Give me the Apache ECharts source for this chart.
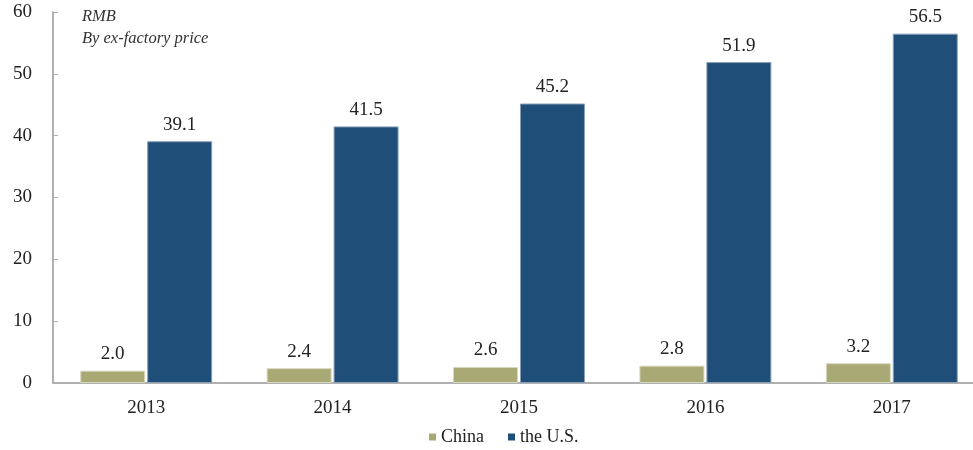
<!DOCTYPE html>
<html><head><meta charset="utf-8">
<script src="https://cdn.jsdelivr.net/npm/echarts@6/dist/echarts.min.js"></script>
<style>html,body{margin:0;padding:0;background:#fff}#c{width:973px;height:450px}</style>
</head><body><div id="c"></div>
<script>
const categories = ['2013','2014','2015','2016','2017'];
const chinaValues = [2.0, 2.4, 2.6, 2.8, 3.2];
const usValues = [39.1, 41.5, 45.2, 51.9, 56.5];
const yTicks = [0, 10, 20, 30, 40, 50, 60];

const chart = echarts.init(document.getElementById('c'));
const font = '"Liberation Serif", "Times New Roman", serif';
chart.setOption({
  animation: false,
  textStyle: {fontFamily: font},
  grid: {left: 53, right: -12, top: 12, bottom: 67, containLabel: false, outerBoundsMode: 'none'},
  legend: {
    top: 428, left: 429, padding: 0, itemWidth: 7, itemHeight: 7, itemGap: 24,
    icon: 'rect',
    itemStyle: {borderWidth: 0},
    textStyle: {fontFamily: font, fontSize: 18, color: '#222'},
    data: ['China', 'the U.S.']
  },
  graphic: [
    {type: 'text', left: 82, top: 8, style: {text: 'RMB', font: 'italic 16.5px "Liberation Serif"', fill: '#333'}},
    {type: 'text', left: 82, top: 30, style: {text: 'By ex-factory price', font: 'italic 16.5px "Liberation Serif"', fill: '#333'}}
  ],
  xAxis: {
    type: 'category', data: categories,
    axisLine: {lineStyle: {color: '#b0b0b0', width: 2}},
    axisTick: {show: false},
    axisLabel: {fontFamily: font, fontSize: 19, color: '#222', margin: 16}
  },
  yAxis: {
    type: 'value', min: yTicks[0], max: yTicks[yTicks.length-1], interval: 10,
    axisLine: {show: true, lineStyle: {color: '#b0b0b0', width: 2}},
    axisTick: {show: true, inside: true, length: 5, lineStyle: {color: '#b0b0b0'}},
    splitLine: {show: false},
    axisLabel: {fontFamily: font, fontSize: 19, color: '#222', margin: 21}
  },
  series: [
    {name: 'China', type: 'bar', data: chinaValues, barWidth: 65, barGap: '3%',
     itemStyle: {color: '#A9A975', borderColor: '#d8d8c0', borderWidth: 1},
     label: {show: true, position: 'top', distance: 7, fontFamily: font, fontSize: 19, color: '#222', formatter: p => p.value.toFixed(1)}},
    {name: 'the U.S.', type: 'bar', data: usValues, barWidth: 65,
     itemStyle: {color: '#1F4E79', borderColor: '#8aa0b8', borderWidth: 1},
     label: {show: true, position: 'top', distance: 7, fontFamily: font, fontSize: 19, color: '#222', formatter: p => p.value.toFixed(1)}}
  ]
});
</script></body></html>
